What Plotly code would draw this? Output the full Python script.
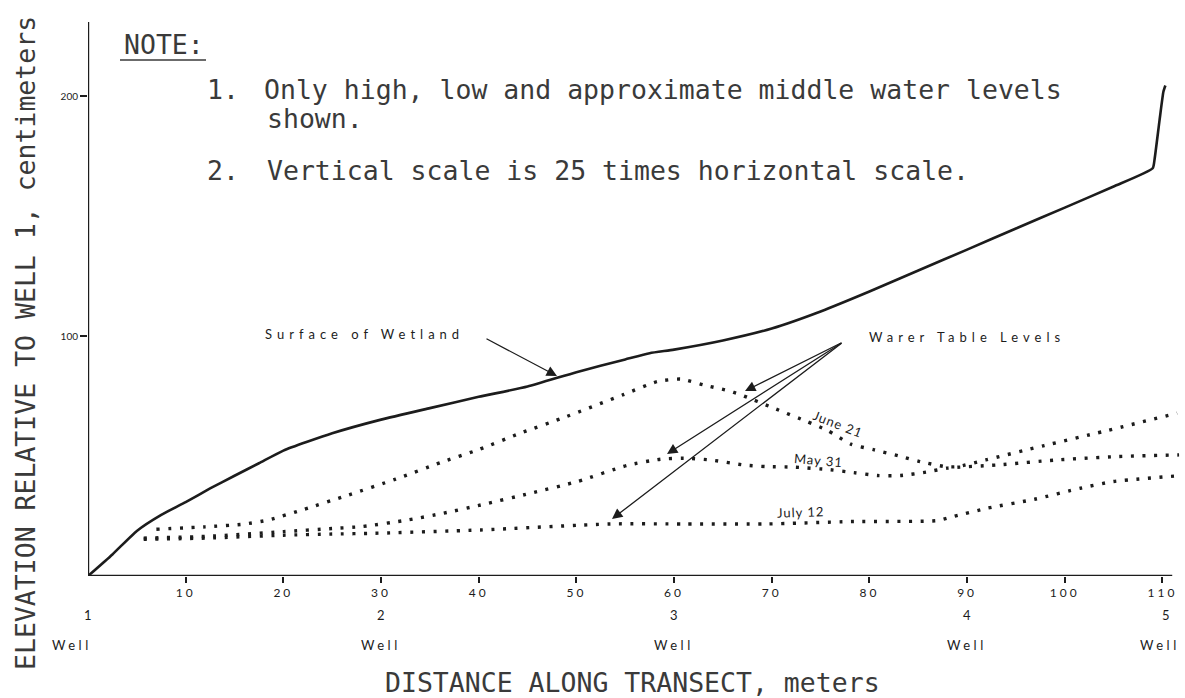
import plotly.graph_objects as go

# ---------------- data ----------------
surface_x = [0, 2.5, 5, 7.5, 10, 12.5, 15, 17.5, 20, 25, 30, 35, 40, 45, 50, 55, 57.5, 60, 65,
             70, 75, 80, 85, 90, 95, 100, 105, 109, 109.2, 109.7, 110.1, 110.3]
surface_y = [0, 9, 18.8, 25.5, 30.8, 36.5, 41.8, 47, 52.3, 59.5, 65.2, 70, 74.7, 79, 85, 90.3, 92.9, 94.4, 98.2,
             103.2, 110.3, 118.6, 127.4, 136.1, 144.9, 153.6, 162.4, 170, 174, 190, 202, 204.5]

june21_x = [7, 12, 15.9, 18.5, 22.1, 26.7, 31.5, 36.1, 40, 44.3, 49, 54.8, 58.3, 60.7, 63, 65.4, 66.8,
            70.2, 73.6, 75.7, 78.1, 80.5, 83, 85.2, 87.8, 89, 91.9, 97.9, 104, 111.5]
june21_y = [19.5, 20.5, 21.6, 23.4, 27.8, 33.8, 40.4, 47.3, 52.7, 59.6, 66.5, 75.6, 81.1, 82.1, 79.7, 77.4, 75.6,
            70, 64.4, 60.7, 55, 52.6, 50.1, 47.7, 45.6, 45.6, 48.4, 54.4, 60.3, 67.9]

may31_x = [5.7, 12, 20, 25, 28, 32.8, 36.4, 40.2, 45.3, 50.1, 55.2, 58.6, 61, 63.7, 67.1, 69.5, 72.3,
           76, 78.4, 80.8, 83.2, 85.8, 88, 93.1, 99.2, 105.4, 111.7]
may31_y = [15.8, 16.5, 18.5, 19.8, 20.6, 23.4, 26.2, 29.6, 34.5, 39.4, 46.1, 48.7, 49.1, 48.4, 46.3, 45.6, 45.4,
           44.3, 43.1, 41.9, 41.9, 43.3, 45, 46.3, 48.4, 49.8, 50.5]

july12_x = [5.7, 12, 20, 25, 29.2, 40.2, 53.5, 61, 69.5, 78.1, 86.9, 88.3, 92.1, 96.9, 101.6, 105, 111.7]
july12_y = [15.3, 15.8, 17, 17.5, 17.8, 19.2, 21.7, 21.7, 21.7, 22.7, 23.1, 24.5, 28.3, 32, 36.6, 39.4, 41.8]

x_ticks = [10, 20, 30, 40, 50, 60, 70, 80, 90, 100, 110]
y_ticks = [100, 200]
well_x = [0, 30, 60, 90, 110]
well_num = ["1", "2", "3", "4", "5"]

# ---------------- layout geometry ----------------
W, H = 1185, 698
L, R, T, B = 88, 3, 22, 122
PW, PH = W - L - R, H - T - B
XMAX, YMAX = 112, 231


def xp(px):
    return (px - L) / PW


def yp(py):
    return (H - B - py) / PH


def dx(px):
    return (px - L) / PW * XMAX


def dy(py):
    return (H - B - py) / PH * YMAX


INK = "#1c1c1c"
TXT = "#3a3a3a"
MONO = "DejaVu Sans Mono"
SANS = "Lato"

fig = go.Figure()

fig.add_trace(go.Scatter(x=surface_x, y=surface_y, mode="lines",
                         line=dict(color=INK, width=2.6, shape="spline", smoothing=0.5),
                         name="Surface of Wetland"))
for xs, ys, nm in [(june21_x, june21_y, "June 21"), (may31_x, may31_y, "May 31"),
                   (july12_x, july12_y, "July 12")]:
    fig.add_trace(go.Scatter(x=xs, y=ys, mode="lines", name=nm,
                             line=dict(color=INK, width=3.4, dash="3px,8.6px", shape="spline",
                                       smoothing=0.6)))

annotations = []


def text(px, py, s, size, font=MONO, color=TXT, xanchor="left", angle=0):
    annotations.append(dict(x=xp(px), y=yp(py), xref="paper", yref="paper", text=s,
                            showarrow=False, xanchor=xanchor, yanchor="middle",
                            textangle=angle, font=dict(family=font, size=size, color=color)))


# note block
text(122, 44, "NOTE:", 26.5)
text(205, 89, "1.", 26.5)
text(262, 89, "Only high, low and approximate middle water levels", 26.5)
text(265, 118, "shown.", 26.5)
text(205, 170, "2.", 26.5)
text(265, 170, "Vertical scale is 25 times horizontal scale.", 26.5)

# axis titles
text(632, 682, "DISTANCE ALONG TRANSECT, meters", 26.5, xanchor="center")
text(25, 343, "ELEVATION RELATIVE TO WELL 1, centimeters", 26.5, xanchor="center", angle=-90)

# curve labels
sp = lambda s, ls: f'<span style="letter-spacing:{ls}px">{s}</span>'
text(364, 334, sp("Surface of Wetland", 5), 13, font=SANS, color=INK, xanchor="center")
text(967, 337, sp("Warer Table Levels", 5), 13, font=SANS, color=INK, xanchor="center")
text(838, 424, sp("June 21", 1), 13, font=SANS, color=INK, xanchor="center", angle=21)
text(818, 460, sp("May 31", 1), 13, font=SANS, color=INK, xanchor="center", angle=5)
text(800, 512, sp("July 12", 1), 13, font=SANS, color=INK, xanchor="center", angle=-2)

# well labels
for i, (wx, wn) in enumerate(zip(well_x, well_num)):
    shift_n = 4 if i == len(well_x) - 1 else 0
    shift_w = -16 if i == 0 else (-2 if i == len(well_x) - 1 else 0)
    annotations.append(dict(x=wx, y=yp(615), xref="x", yref="paper", text=wn, showarrow=False,
                            xshift=shift_n, yanchor="middle",
                            font=dict(family=SANS, size=13, color=INK)))
    annotations.append(dict(x=wx, y=yp(645), xref="x", yref="paper", text=sp("Well", 3.5),
                            showarrow=False, xshift=shift_w, yanchor="middle",
                            font=dict(family=SANS, size=13, color=INK)))

# arrows
arrow_specs = [((485, 338), (557, 376)),
               ((843, 342), (745, 391)),
               ((843, 342), (667, 454)),
               ((843, 342), (612, 519))]
for (tx, ty), (hx, hy) in arrow_specs:
    annotations.append(dict(x=dx(hx), y=dy(hy), ax=dx(tx), ay=dy(ty), xref="x", yref="y",
                            axref="x", ayref="y", text="", showarrow=True, arrowhead=2,
                            arrowsize=1.6, arrowwidth=1.3, arrowcolor=INK))

shapes = [
    dict(type="line", xref="x", yref="y", x0=0, x1=111, y0=0, y1=0, line=dict(color=INK, width=2.4)),
    dict(type="line", xref="x", yref="y", x0=0, x1=0, y0=0, y1=YMAX, line=dict(color=INK, width=2.4)),
    dict(type="line", xref="paper", yref="paper", x0=xp(120), x1=xp(206), y0=yp(60), y1=yp(60),
         line=dict(color=TXT, width=1.4)),
]

fig.update_layout(
    width=W, height=H, margin=dict(l=L, r=R, t=T, b=B, autoexpand=False),
    paper_bgcolor="white", plot_bgcolor="white", showlegend=False,
    annotations=annotations, shapes=shapes,
    xaxis=dict(range=[0, XMAX], showgrid=False, zeroline=False, showline=False, automargin=False,
               tickmode="array", tickvals=x_ticks, ticktext=[sp(v, 3) for v in x_ticks],
               ticks="outside", ticklen=6, tickwidth=1.6, tickcolor=INK,
               tickfont=dict(family=SANS, size=12, color=INK)),
    yaxis=dict(range=[0, YMAX], showgrid=False, zeroline=False, showline=False, automargin=False,
               tickmode="array", tickvals=y_ticks, ticktext=[str(v) for v in y_ticks],
               ticks="outside", ticklen=7, tickwidth=1.8, tickcolor=INK,
               tickfont=dict(family=SANS, size=10, color=INK)),
)

fig.write_html("out.html", config={"displayModeBar": False},
               post_script="document.body.style.margin='0';document.body.style.overflow='hidden';")
